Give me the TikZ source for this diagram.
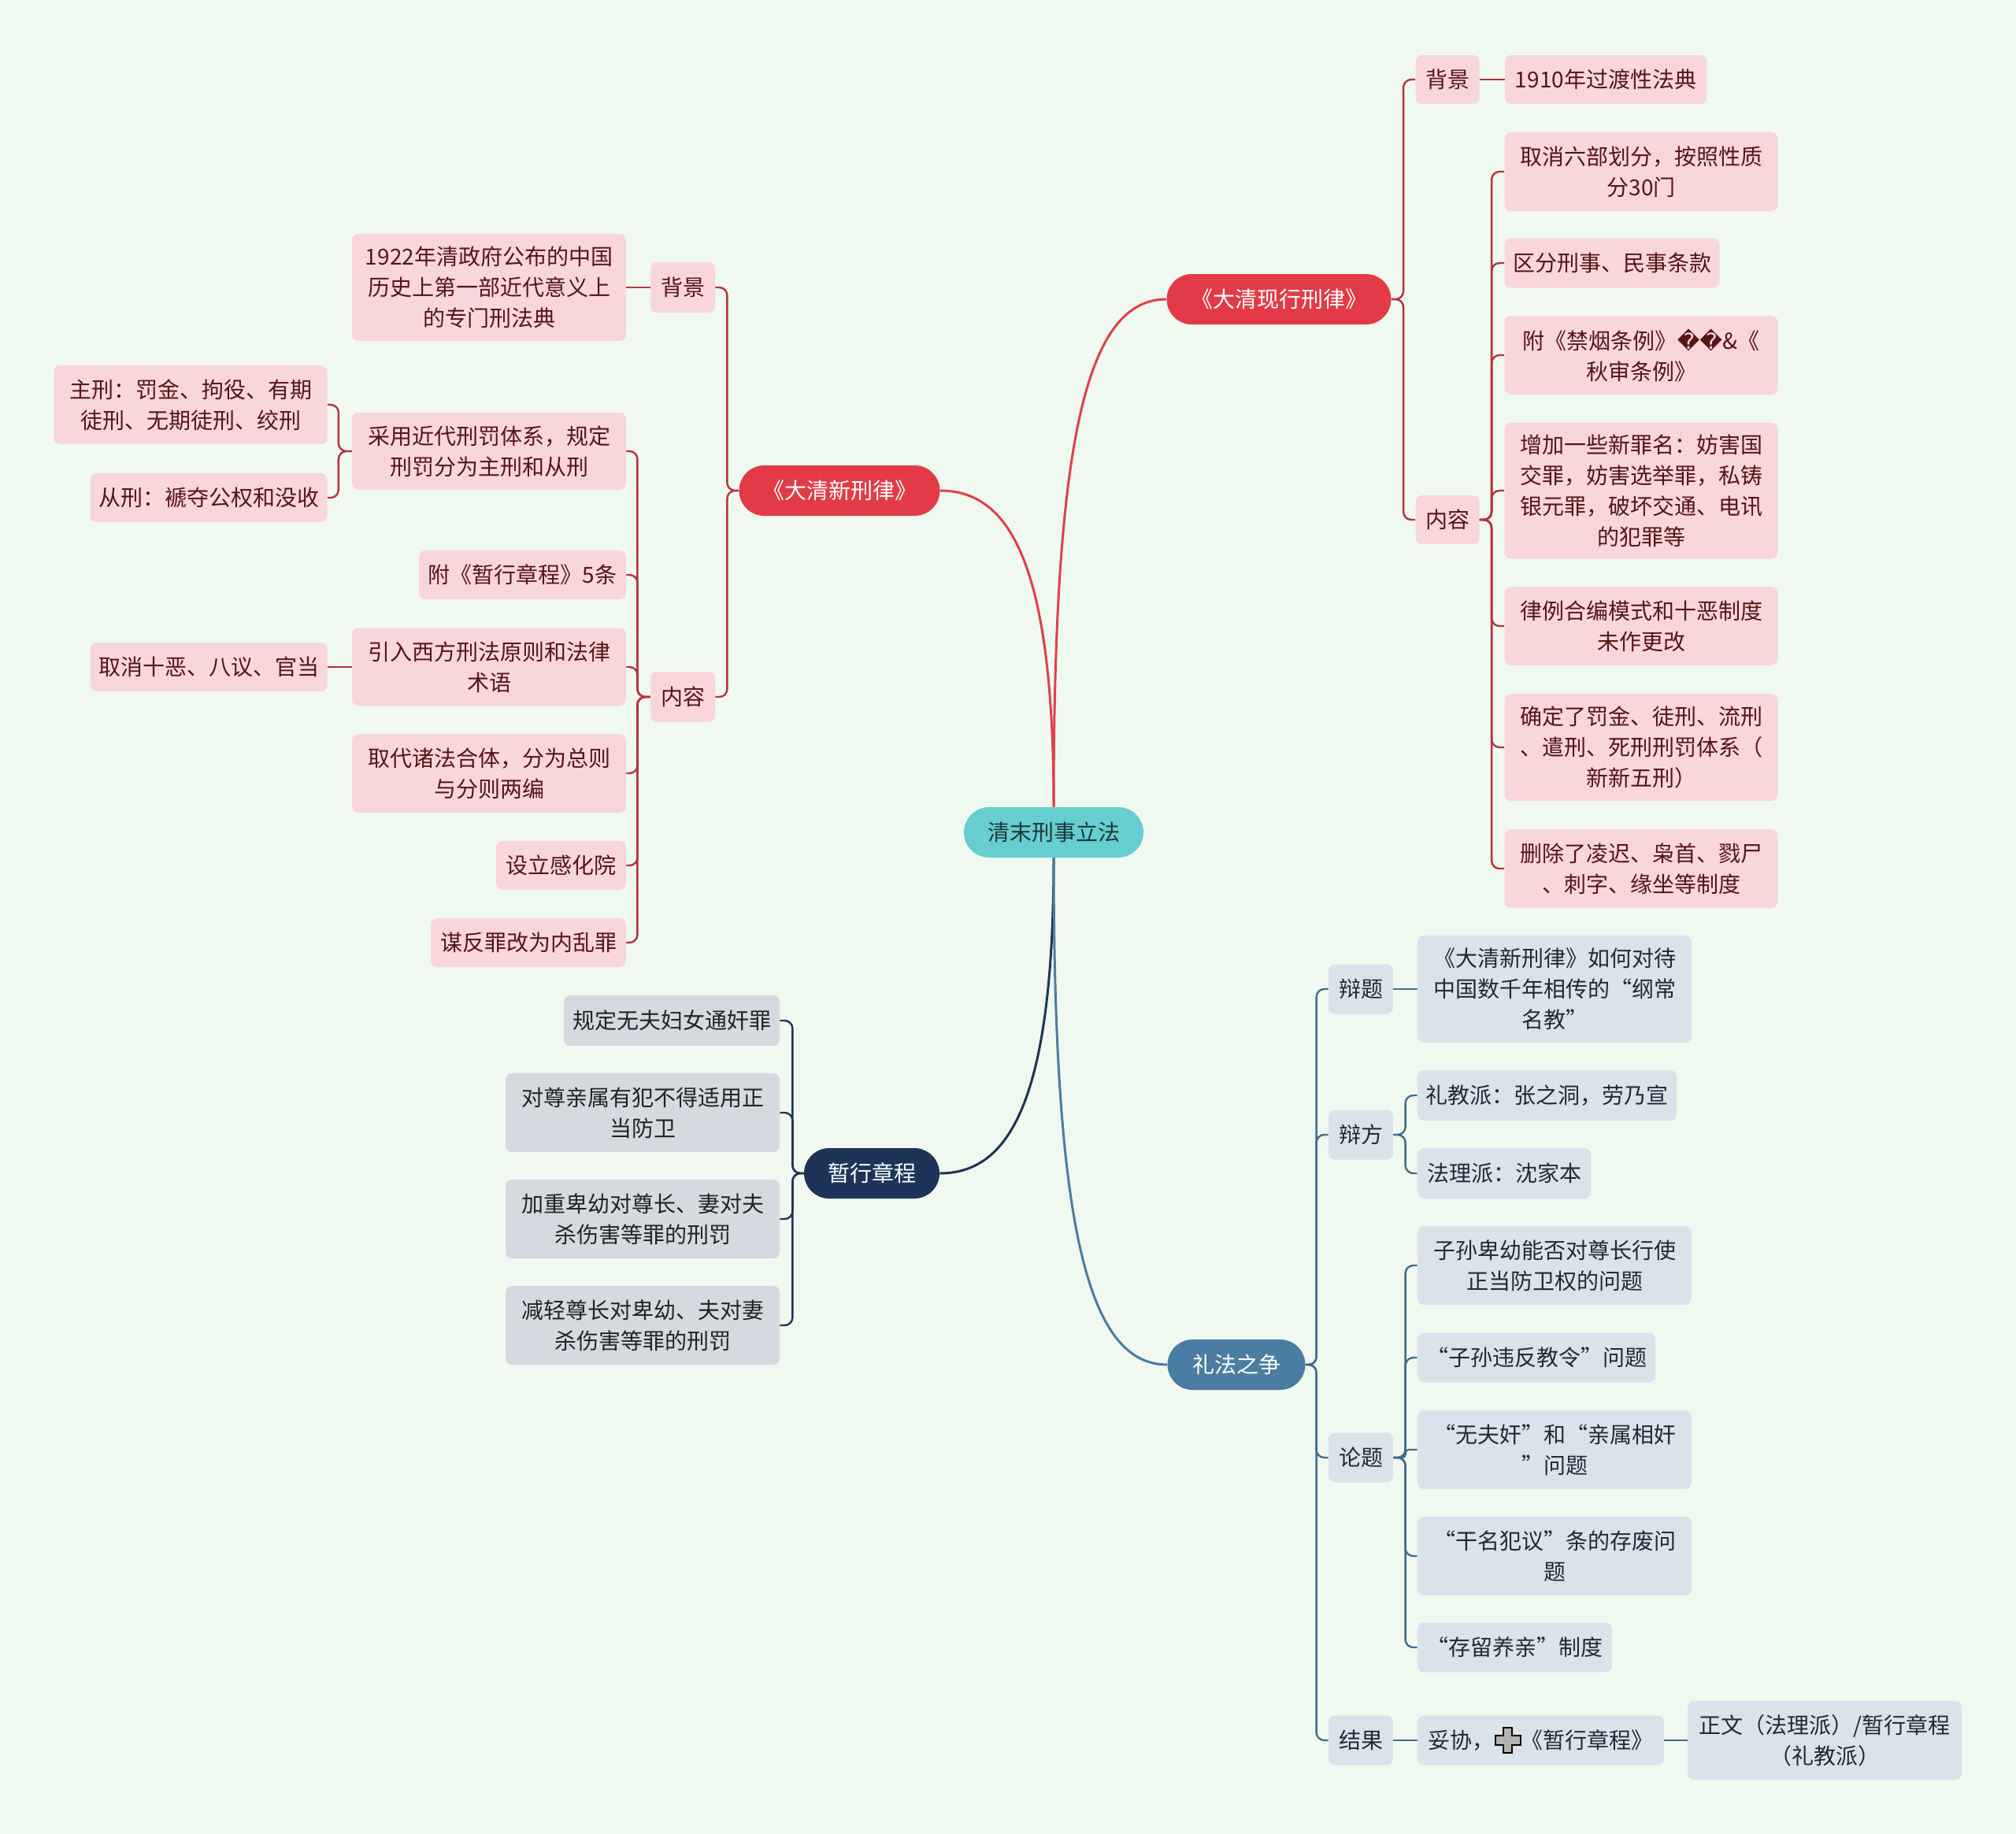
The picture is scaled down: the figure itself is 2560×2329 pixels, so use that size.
\documentclass[tikz,border=0pt]{standalone}
\usepackage{fontspec}
\setmainfont{Noto Sans CJK SC}
\newfontfamily\dejavu{DejaVu Sans}
\usetikzlibrary{calc}
\definecolor{bgc}{HTML}{F0F9EF}
\definecolor{rootc}{HTML}{66CDD0}
\definecolor{roottx}{HTML}{1B3838}
\definecolor{redn}{HTML}{E23B47}
\definecolor{redl}{HTML}{E0404A}
\definecolor{redb}{HTML}{B7323C}
\definecolor{pinkb}{HTML}{F9D6DA}
\definecolor{pinkt}{HTML}{561516}
\definecolor{navyn}{HTML}{1D3458}
\definecolor{grayb}{HTML}{D5D9E0}
\definecolor{grayt}{HTML}{222222}
\definecolor{steeln}{HTML}{4A7DA1}
\definecolor{steell}{HTML}{3F6E8E}
\definecolor{blueb}{HTML}{DAE3EB}
\definecolor{bluet}{HTML}{1E2A36}
\tikzset{
  base/.style={rectangle, rounded corners=4pt, inner sep=0pt, align=center,
    font=\fontsize{14pt}{19.5pt}\selectfont},
  sz/.style 2 args={minimum width=#1*0.5pt, minimum height=#2*0.5pt},
  pk/.style={base, fill=pinkb, text=pinkt},
  gy/.style={base, fill=grayb, text=grayt},
  bl/.style={base, fill=blueb, text=bluet},
  pill/.style={base, rounded corners=16pt},
  rootbox/.style={pill, fill=rootc, text=roottx},
  rednode/.style={pill, fill=redn, text=white},
  navynode/.style={pill, fill=navyn, text=white},
  steelnode/.style={pill, fill=steeln, text=white},
  lr/.style={draw=redb, line width=1.2pt, rounded corners=5pt},
  ln/.style={draw=navyn, line width=1.2pt, rounded corners=5pt},
  lb/.style={draw=steell, line width=1.2pt, rounded corners=5pt},
  cr/.style={draw=redl, line width=1.5pt},
  cn/.style={draw=navyn, line width=1.5pt},
  cs/.style={draw=steeln, line width=1.5pt},
}
\begin{document}
\begin{tikzpicture}[x=0.5pt,y=-0.5pt]
\fill[bgc] (0,0) rectangle (2560,2329);
\useasboundingbox (0,0) rectangle (2560,2329);

% level 0 and 1
\node[rootbox, sz={228}{64}] (root) at (1338,1057) {清末刑事立法};
\node[rednode, sz={285}{64}] (xian) at (1624,380) {《大清现行刑律》};
\node[rednode, sz={255}{64}] (xin) at (1066,623) {《大清新刑律》};
\node[navynode, sz={172}{64}] (zan) at (1107,1490) {暂行章程};
\node[steelnode, sz={175}{64}] (li) at (1570,1733) {礼法之争};

\draw[cr] (root.north) .. controls ($(root.north)+(0,-465)$) and ($(xian.west)+(-102,0)$) .. (xian.west);
\draw[cr] (root.north) .. controls ($(root.north)+(0,-311)$) and ($(xin.east)+(87,0)$) .. (xin.east);
\draw[cn] (root.south) .. controls ($(root.south)+(0,311)$) and ($(zan.east)+(87,0)$) .. (zan.east);
\draw[cs] (root.south) .. controls ($(root.south)+(0,461)$) and ($(li.west)+(-103,0)$) .. (li.west);

% ---------- 大清现行刑律 ----------
\node[pk, sz={81}{62}] (bjR) at (1838,101) {背景};
\node[pk, sz={256}{62}] (bjRa) at (2039,101) {1910年过渡性法典};
\node[pk, sz={81}{62}] (nrR) at (1838,660) {内容};
\node[pk, sz={347}{100}] (r1) at (2084,218) {取消六部划分，按照性质\\分30门};
\node[pk, sz={273}{63}] (r2) at (2047,334) {区分刑事、民事条款};
\node[pk, sz={347}{100}] (r3) at (2084,451) {附《禁烟条例》{\dejavu ��}\&《\\秋审条例》};
\node[pk, sz={347}{173}] (r4) at (2084,623) {增加一些新罪名：妨害国\\交罪，妨害选举罪，私铸\\银元罪，破坏交通、电讯\\的犯罪等};
\node[pk, sz={347}{100}] (r5) at (2084,795) {律例合编模式和十恶制度\\未作更改};
\node[pk, sz={347}{136}] (r6) at (2084,949) {确定了罚金、徒刑、流刑\\、遣刑、死刑刑罚体系（\\新新五刑）};
\node[pk, sz={347}{100}] (r7) at (2084,1103) {删除了凌迟、枭首、戮尸\\、刺字、缘坐等制度};

\draw[lr] (xian.east) -| ([xshift=-7.5pt]bjR.west) -- (bjR.west);
\draw[lr] (xian.east) -| ([xshift=-7.5pt]nrR.west) -- (nrR.west);
\draw[lr] (bjR.east) -- (bjRa.west);
\foreach \c in {r1,r2,r3,r4,r5,r6,r7}
  \draw[lr] (nrR.east) -| ([xshift=-8pt]\c.west) -- (\c.west);

% ---------- 大清新刑律 ----------
\node[pk, sz={82}{64}] (bjL) at (867,365) {背景};
\node[pk, sz={348}{136}] (bjLa) at (621,365) {1922年清政府公布的中国\\历史上第一部近代意义上\\的专门刑法典};
\node[pk, sz={82}{64}] (nrL) at (867,885) {内容};
\node[pk, sz={348}{98}] (l1) at (621,573) {采用近代刑罚体系，规定\\刑罚分为主刑和从刑};
\node[pk, sz={347}{100}] (l1a) at (242,514) {主刑：罚金、拘役、有期\\徒刑、无期徒刑、绞刑};
\node[pk, sz={301}{62}] (l1b) at (265,632) {从刑：褫夺公权和没收};
\node[pk, sz={263}{62}] (l2) at (663.5,730) {附《暂行章程》5条};
\node[pk, sz={348}{99}] (l3) at (621,847) {引入西方刑法原则和法律\\术语};
\node[pk, sz={301}{62}] (l3a) at (265,847) {取消十恶、八议、官当};
\node[pk, sz={348}{100}] (l4) at (621,982) {取代诸法合体，分为总则\\与分则两编};
\node[pk, sz={165}{62}] (l5) at (712.5,1099) {设立感化院};
\node[pk, sz={248}{62}] (l6) at (671,1197) {谋反罪改为内乱罪};

\draw[lr] (xin.west) -| ([xshift=7.5pt]bjL.east) -- (bjL.east);
\draw[lr] (xin.west) -| ([xshift=7.5pt]nrL.east) -- (nrL.east);
\draw[lr] (bjL.west) -- (bjLa.east);
\foreach \c in {l1,l2,l3,l4,l5,l6}
  \draw[lr] (nrL.west) -| ([xshift=7pt]\c.east) -- (\c.east);
\foreach \c in {l1a,l1b}
  \draw[lr] (l1.west) -| ([xshift=7pt]\c.east) -- (\c.east);
\draw[lr] (l3.west) -- (l3a.east);

% ---------- 暂行章程 ----------
\node[gy, sz={274}{64}] (z1) at (853,1296) {规定无夫妇女通奸罪};
\node[gy, sz={348}{100}] (z2) at (816,1413) {对尊亲属有犯不得适用正\\当防卫};
\node[gy, sz={348}{100}] (z3) at (816,1548) {加重卑幼对尊长、妻对夫\\杀伤害等罪的刑罚};
\node[gy, sz={348}{100}] (z4) at (816,1683) {减轻尊长对卑幼、夫对妻\\杀伤害等罪的刑罚};
\foreach \c in {z1,z2,z3,z4}
  \draw[ln] (zan.west) -| ([xshift=8pt]\c.east) -- (\c.east);

% ---------- 礼法之争 ----------
\node[bl, sz={82}{63}] (b1) at (1728,1256) {辩题};
\node[bl, sz={348}{136}] (b1a) at (1974,1256) {《大清新刑律》如何对待\\中国数千年相传的“纲常\\名教”};
\node[bl, sz={82}{63}] (b2) at (1728,1441) {辩方};
\node[bl, sz={329}{64}] (b2a) at (1964.5,1391) {礼教派：张之洞，劳乃宣};
\node[bl, sz={220}{64}] (b2b) at (1910,1490) {法理派：沈家本};
\node[bl, sz={82}{63}] (b3) at (1728,1851) {论题};
\node[bl, sz={348}{100}] (b3a) at (1974,1607) {子孙卑幼能否对尊长行使\\正当防卫权的问题};
\node[bl, sz={302}{63}] (b3b) at (1951,1724) {“子孙违反教令”问题};
\node[bl, sz={348}{100}] (b3c) at (1974,1841) {“无夫奸”和“亲属相奸\\”问题};
\node[bl, sz={348}{100}] (b3d) at (1974,1976) {“干名犯议”条的存废问\\题};
\node[bl, sz={247}{63}] (b3e) at (1923.5,2092) {“存留养亲”制度};
\node[bl, sz={82}{63}] (b4) at (1728,2210) {结果};
\node[bl, sz={313}{63}] (b4a) at (1956.5,2210) {妥协，\tikz[baseline=-5pt]{\draw[fill=gray!60, draw=black, line width=1pt, sharp corners] (-2.8pt,8pt) -- (2.8pt,8pt) -- (2.8pt,2.8pt) -- (8pt,2.8pt) -- (8pt,-2.8pt) -- (2.8pt,-2.8pt) -- (2.8pt,-8pt) -- (-2.8pt,-8pt) -- (-2.8pt,-2.8pt) -- (-8pt,-2.8pt) -- (-8pt,2.8pt) -- (-2.8pt,2.8pt) -- cycle;}《暂行章程》};
\node[bl, sz={348}{100}] (b4b) at (2317,2210) {正文（法理派）/暂行章程\\（礼教派）};

\foreach \c in {b1,b2,b3,b4}
  \draw[lb] (li.east) -| ([xshift=-7.5pt]\c.west) -- (\c.west);
\draw[lb] (b1.east) -- (b1a.west);
\foreach \c in {b2a,b2b}
  \draw[lb] (b2.east) -| ([xshift=-7.5pt]\c.west) -- (\c.west);
\foreach \c in {b3a,b3b,b3d,b3e}
  \draw[lb] (b3.east) -| ([xshift=-7.5pt]\c.west) -- (\c.west);
\draw[lb, rounded corners=2pt] (b3.east) -| ([xshift=-7.5pt]b3c.west) -- (b3c.west);
\draw[lb] (b4.east) -- (b4a.west);
\draw[lb] (b4a.east) -- (b4b.west);
\end{tikzpicture}
\end{document}
